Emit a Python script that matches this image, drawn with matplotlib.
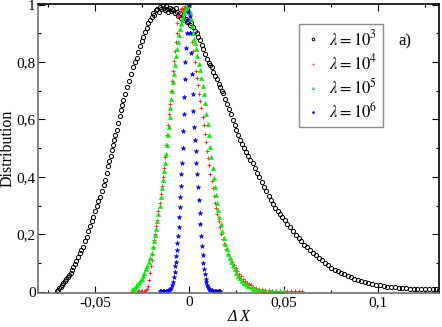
import numpy as np
import matplotlib
matplotlib.use("Agg")
import matplotlib.pyplot as plt
from matplotlib.ticker import FixedLocator, MultipleLocator, FuncFormatter

plt.rcParams["font.family"] = ["Liberation Serif", "DejaVu Serif"]
plt.rcParams["mathtext.fontset"] = "stix"

# lambda = 10^3 (black open circles)
dx_1e3 = [-0.0704, -0.0698, -0.0690, -0.0683, -0.0675, -0.0668, -0.0660, -0.0652, -0.0645, -0.0637,
          -0.0630, -0.0624, -0.0615, -0.0607, -0.0600, -0.0590, -0.0580, -0.0572, -0.0565, -0.0555,
          -0.0544, -0.0535, -0.0525, -0.0517, -0.0509, -0.0500, -0.0490, -0.0482, -0.0473, -0.0464,
          -0.0455, -0.0447, -0.0438, -0.0430, -0.0424, -0.0418, -0.0411, -0.0405, -0.0398, -0.0392,
          -0.0385, -0.0378, -0.0370, -0.0364, -0.0358, -0.0350, -0.0340, -0.0330, -0.0320, -0.0310,
          -0.0297, -0.0288, -0.0280, -0.0270, -0.0260, -0.0252, -0.0244, -0.0235, -0.0226, -0.0218,
          -0.0210, -0.0200, -0.0192, -0.0185, -0.0178, -0.0170, -0.0162, -0.0155, -0.0148, -0.0142,
          -0.0136, -0.0130, -0.0124, -0.0118, -0.0112, -0.0105, -0.0098, -0.0092, -0.0085, -0.0078,
          -0.0072, -0.0065, -0.0058, -0.0050, -0.0042, -0.0035, -0.0028, -0.0020, -0.0012, -0.0005,
          0.0003, 0.0010, 0.0021, 0.0030, 0.0040, 0.0048, 0.0057, 0.0066, 0.0075, 0.0085,
          0.0095, 0.0103, 0.0110, 0.0119, 0.0128, 0.0137, 0.0146, 0.0155, 0.0163, 0.0172,
          0.0180, 0.0190, 0.0200, 0.0210, 0.0220, 0.0230, 0.0240, 0.0250, 0.0260, 0.0270,
          0.0280, 0.0290, 0.0300, 0.0312, 0.0324, 0.0336, 0.0348, 0.0360, 0.0372, 0.0384,
          0.0396, 0.0408, 0.0420, 0.0432, 0.0444, 0.0456, 0.0468, 0.0480, 0.0492, 0.0505,
          0.0520, 0.0535, 0.0550, 0.0565, 0.0580, 0.0595, 0.0610, 0.0625, 0.0640, 0.0656,
          0.0672, 0.0688, 0.0704, 0.0720, 0.0737, 0.0754, 0.0771, 0.0788, 0.0805, 0.0822,
          0.0840, 0.0858, 0.0876, 0.0894, 0.0912, 0.0930, 0.0950, 0.0970, 0.0990, 0.1010,
          0.1030, 0.1050, 0.1070, 0.1090, 0.1110, 0.1130, 0.1150, 0.1170, 0.1190, 0.1210,
          0.1230, 0.1250, 0.1270, 0.1290, 0.1310, 0.1325]
dist_1e3 = [0.003, 0.007, 0.012, 0.017, 0.022, 0.029, 0.036, 0.044, 0.050, 0.058,
            0.066, 0.076, 0.086, 0.097, 0.108, 0.120, 0.134, 0.147, 0.157, 0.175,
            0.192, 0.210, 0.228, 0.246, 0.261, 0.280, 0.300, 0.315, 0.331, 0.352,
            0.372, 0.390, 0.412, 0.438, 0.456, 0.474, 0.494, 0.510, 0.528, 0.545,
            0.563, 0.588, 0.612, 0.632, 0.650, 0.668, 0.690, 0.712, 0.735, 0.758,
            0.784, 0.800, 0.815, 0.835, 0.855, 0.872, 0.888, 0.905, 0.918, 0.935,
            0.945, 0.958, 0.972, 0.965, 0.980, 0.985, 0.975, 0.992, 0.985, 1.000,
            0.990, 0.980, 0.995, 0.985, 0.975, 0.990, 0.978, 0.985, 0.982, 0.970,
            0.988, 0.975, 0.962, 0.970, 0.955, 0.960, 0.945, 0.950, 0.938, 0.942,
            0.930, 0.935, 0.923, 0.910, 0.900, 0.888, 0.877, 0.860, 0.845, 0.828,
            0.812, 0.798, 0.790, 0.784, 0.765, 0.752, 0.740, 0.725, 0.714, 0.700,
            0.691, 0.672, 0.655, 0.638, 0.618, 0.598, 0.580, 0.562, 0.545, 0.530,
            0.515, 0.500, 0.488, 0.472, 0.460, 0.448, 0.430, 0.412, 0.398, 0.382,
            0.366, 0.350, 0.332, 0.318, 0.305, 0.292, 0.280, 0.270, 0.260, 0.250,
            0.236, 0.224, 0.210, 0.198, 0.186, 0.175, 0.164, 0.155, 0.145, 0.136,
            0.127, 0.118, 0.110, 0.101, 0.092, 0.084, 0.076, 0.071, 0.066, 0.061,
            0.056, 0.051, 0.046, 0.042, 0.038, 0.034, 0.031, 0.028, 0.025, 0.022,
            0.020, 0.018, 0.017, 0.015, 0.014, 0.013, 0.012, 0.011, 0.011, 0.010,
            0.009, 0.009, 0.008, 0.008, 0.008, 0.007]

# lambda = 10^4 (red)
dx_1e4 = [-0.0272, -0.0265, -0.0258, -0.0250, -0.0243, -0.0236, -0.0229, -0.0222, -0.0217, -0.0212,
          -0.0208, -0.0204, -0.0200, -0.0196, -0.0191, -0.0186, -0.0181, -0.0175, -0.0170, -0.0164,
          -0.0158, -0.0152, -0.0146, -0.0140, -0.0134, -0.0128, -0.0122, -0.0117, -0.0112, -0.0107,
          -0.0102, -0.0097, -0.0092, -0.0088, -0.0083, -0.0078, -0.0073, -0.0068, -0.0063, -0.0058,
          -0.0052, -0.0046, -0.0040, -0.0034, -0.0028, -0.0022, -0.0016, -0.0010, -0.0004, 0.0004,
          0.0010, 0.0016, 0.0022, 0.0028, 0.0034, 0.0040, 0.0046, 0.0052, 0.0058, 0.0064,
          0.0070, 0.0076, 0.0082, 0.0088, 0.0094, 0.0100, 0.0106, 0.0112, 0.0118, 0.0124,
          0.0130, 0.0136, 0.0142, 0.0148, 0.0155, 0.0162, 0.0170, 0.0178, 0.0186, 0.0195,
          0.0205, 0.0215, 0.0225, 0.0235, 0.0245, 0.0255, 0.0265, 0.0275, 0.0285, 0.0295,
          0.0305, 0.0316, 0.0327, 0.0340, 0.0355, 0.0370, 0.0385, 0.0400, 0.0420, 0.0440,
          0.0460, 0.0480, 0.0500, 0.0520, 0.0540, 0.0560, 0.0580, 0.0600]
dist_1e4 = [0.003, 0.003, 0.003, 0.003, 0.004, 0.004, 0.005, 0.008, 0.020, 0.040,
            0.064, 0.090, 0.110, 0.130, 0.155, 0.180, 0.200, 0.228, 0.250, 0.280,
            0.310, 0.340, 0.370, 0.400, 0.432, 0.470, 0.510, 0.545, 0.580, 0.620,
            0.655, 0.700, 0.735, 0.770, 0.805, 0.840, 0.870, 0.900, 0.935, 0.962,
            0.975, 0.985, 0.990, 0.980, 0.990, 0.995, 0.985, 0.990, 1.000, 0.950,
            0.900, 0.870, 0.840, 0.800, 0.770, 0.745, 0.720, 0.690, 0.665, 0.640,
            0.610, 0.580, 0.550, 0.520, 0.490, 0.465, 0.440, 0.410, 0.385, 0.360,
            0.335, 0.310, 0.290, 0.270, 0.245, 0.225, 0.200, 0.182, 0.166, 0.150,
            0.133, 0.118, 0.104, 0.092, 0.082, 0.072, 0.062, 0.053, 0.045, 0.038,
            0.032, 0.027, 0.022, 0.017, 0.013, 0.010, 0.008, 0.006, 0.005, 0.004,
            0.004, 0.003, 0.003, 0.003, 0.003, 0.003, 0.003, 0.003]

# lambda = 10^5 (green triangles)
dx_1e5 = [-0.0305, -0.0298, -0.0290, -0.0283, -0.0275, -0.0268, -0.0260, -0.0253, -0.0245, -0.0238,
          -0.0230, -0.0223, -0.0215, -0.0208, -0.0200, -0.0194, -0.0188, -0.0182, -0.0176, -0.0170,
          -0.0164, -0.0158, -0.0152, -0.0146, -0.0140, -0.0135, -0.0130, -0.0125, -0.0120, -0.0115,
          -0.0110, -0.0105, -0.0100, -0.0095, -0.0090, -0.0085, -0.0080, -0.0075, -0.0070, -0.0065,
          -0.0060, -0.0055, -0.0050, -0.0045, -0.0040, -0.0035, -0.0030, -0.0025, -0.0020, -0.0015,
          -0.0010, -0.0005, 0.0000, 0.0005, 0.0010, 0.0015, 0.0020, 0.0025, 0.0030, 0.0036,
          0.0043, 0.0050, 0.0057, 0.0064, 0.0070, 0.0077, 0.0083, 0.0090, 0.0097, 0.0103,
          0.0110, 0.0116, 0.0123, 0.0130, 0.0136, 0.0142, 0.0148, 0.0154, 0.0160, 0.0167,
          0.0175, 0.0183, 0.0190, 0.0198, 0.0206, 0.0214, 0.0221, 0.0230, 0.0240, 0.0250,
          0.0260, 0.0270, 0.0280, 0.0290, 0.0300, 0.0312, 0.0325, 0.0338, 0.0352, 0.0368,
          0.0385, 0.0400, 0.0420, 0.0440, 0.0460, 0.0480, 0.0500]
dist_1e5 = [0.006, 0.010, 0.014, 0.019, 0.024, 0.030, 0.036, 0.045, 0.056, 0.066,
            0.078, 0.090, 0.104, 0.118, 0.135, 0.155, 0.175, 0.196, 0.220, 0.245,
            0.270, 0.300, 0.330, 0.360, 0.390, 0.420, 0.450, 0.480, 0.510, 0.545,
            0.575, 0.610, 0.640, 0.670, 0.700, 0.730, 0.760, 0.790, 0.820, 0.845,
            0.870, 0.895, 0.915, 0.932, 0.947, 0.958, 0.970, 0.978, 0.985, 0.990,
            0.995, 0.998, 1.000, 0.975, 0.950, 0.925, 0.900, 0.882, 0.865, 0.845,
            0.820, 0.795, 0.772, 0.745, 0.718, 0.688, 0.656, 0.620, 0.585, 0.545,
            0.505, 0.470, 0.432, 0.395, 0.366, 0.338, 0.310, 0.283, 0.260, 0.236,
            0.210, 0.188, 0.167, 0.148, 0.132, 0.118, 0.105, 0.090, 0.078, 0.066,
            0.056, 0.047, 0.039, 0.032, 0.026, 0.020, 0.015, 0.011, 0.009, 0.007,
            0.005, 0.004, 0.004, 0.003, 0.003, 0.003, 0.003]

# lambda = 10^6 (blue)
dx_1e6 = [-0.0155, -0.0148, -0.0140, -0.0133, -0.0126, -0.0120, -0.0113, -0.0106, -0.0100, -0.0095,
          -0.0090, -0.0086, -0.0082, -0.0078, -0.0075, -0.0072, -0.0069, -0.0066, -0.0063, -0.0060,
          -0.0057, -0.0054, -0.0051, -0.0048, -0.0045, -0.0042, -0.0039, -0.0036, -0.0033, -0.0030,
          -0.0027, -0.0024, -0.0021, -0.0018, -0.0014, -0.0010, -0.0006, -0.0002, 0.0002, 0.0006,
          0.0010, 0.0014, 0.0018, 0.0022, 0.0026, 0.0030, 0.0034, 0.0038, 0.0042, 0.0046,
          0.0050, 0.0054, 0.0058, 0.0062, 0.0066, 0.0070, 0.0074, 0.0078, 0.0082, 0.0086,
          0.0090, 0.0095, 0.0100, 0.0106, 0.0112, 0.0119, 0.0127, 0.0135, 0.0143, 0.0150,
          0.0157, 0.0163]
dist_1e6 = [0.002, 0.002, 0.002, 0.002, 0.003, 0.003, 0.004, 0.005, 0.008, 0.013,
            0.022, 0.035, 0.050, 0.070, 0.088, 0.105, 0.125, 0.145, 0.170, 0.195,
            0.225, 0.260, 0.295, 0.330, 0.370, 0.410, 0.450, 0.500, 0.560, 0.620,
            0.680, 0.740, 0.800, 0.850, 0.900, 0.945, 0.975, 1.000, 0.960, 0.900,
            0.830, 0.760, 0.690, 0.630, 0.575, 0.530, 0.490, 0.450, 0.410, 0.365,
            0.320, 0.275, 0.235, 0.195, 0.160, 0.128, 0.100, 0.078, 0.060, 0.045,
            0.033, 0.022, 0.015, 0.010, 0.007, 0.005, 0.004, 0.003, 0.002, 0.002,
            0.002, 0.002]

x_ticks = [-0.05, 0.0, 0.05, 0.1]
y_ticks = [0.0, 0.2, 0.4, 0.6, 0.8, 1.0]


def comma(v, pos=None):
    return f"{v:g}".replace(".", ",")


fig = plt.figure(figsize=(4.42, 3.27), dpi=100)
ax = fig.add_axes([0.0867, 0.103, 0.9072, 0.8848])

ax.plot(dx_1e3, dist_1e3, ls="none", marker="o", ms=3.0, mfc="none", mec="black", mew=0.7,
        label=r"$\lambda = 10^3$")
ax.plot(dx_1e4, dist_1e4, ls="none", marker="+", ms=3.0, mec="#ff3030", mew=0.7,
        label=r"$\lambda = 10^4$")
ax.plot(dx_1e5, dist_1e5, ls="none", marker="^", ms=3.0, mfc="#00ee00", mec="#00ee00", mew=0.4,
        label=r"$\lambda = 10^5$")
ax.plot(dx_1e6, dist_1e6, ls="none", marker="*", ms=3.4, mfc="#0000ff", mec="#0000ff", mew=0.4,
        label=r"$\lambda = 10^6$")

ax.set_xlim(-0.0801, 0.1326)
ax.set_ylim(-0.0056, 1.0024)
ax.xaxis.set_major_locator(FixedLocator(x_ticks))
ax.yaxis.set_major_locator(FixedLocator(y_ticks))
ax.xaxis.set_minor_locator(MultipleLocator(0.025))
ax.yaxis.set_minor_locator(MultipleLocator(0.1))
ax.xaxis.set_major_formatter(FuncFormatter(comma))
ax.yaxis.set_major_formatter(FuncFormatter(comma))
ax.tick_params(which="both", direction="in", top=True, right=True, labelsize=11, pad=2)
ax.tick_params(which="major", length=5, width=0.8)
ax.tick_params(which="minor", length=2.5, width=0.8)
for side in ["left", "bottom"]:
    ax.spines[side].set_color("#707070")
for side in ["top", "right"]:
    ax.spines[side].set_color("black")
for sp in ax.spines.values():
    sp.set_linewidth(1.2)

ax.set_xlabel("Δ X", fontsize=11.5, style="italic", labelpad=0)
ax.set_ylabel("Distribution", fontsize=11.5, va="center")
ax.yaxis.set_label_coords(-0.077, 0.5)

leg = ax.legend(loc="upper left", bbox_to_anchor=(0.651, 0.93), fontsize=12, frameon=True,
                fancybox=False, edgecolor="#707070", handlelength=1.0, handletextpad=0.5,
                borderpad=0.3, labelspacing=0.25, markerscale=0.6, borderaxespad=0)
leg.get_frame().set_linewidth(1.0)
ax.text(0.914, 0.87, "a)", transform=ax.transAxes, fontsize=12, ha="center", va="center")

fig.savefig("out.png", dpi=100)
